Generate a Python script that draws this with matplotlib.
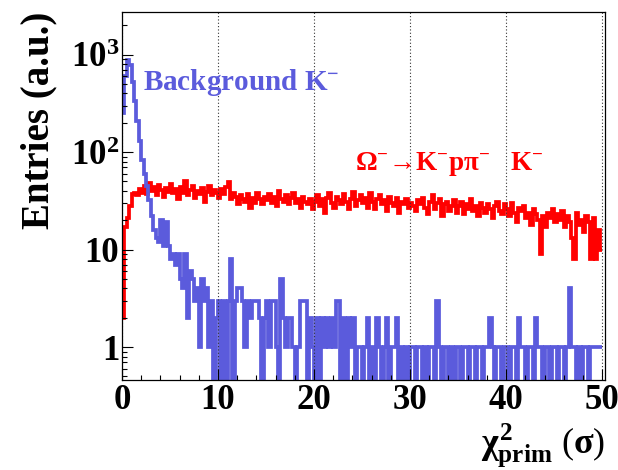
import numpy as np
import matplotlib
matplotlib.use('Agg')
import matplotlib.pyplot as plt
from matplotlib.ticker import FixedLocator, MultipleLocator, LogLocator, NullFormatter

plt.rcParams['font.family'] = ['Liberation Serif', 'DejaVu Serif']
plt.rcParams['font.weight'] = 'bold'
plt.rcParams['mathtext.fontset'] = 'custom'
plt.rcParams['mathtext.rm'] = 'Liberation Serif:bold'
plt.rcParams['mathtext.it'] = 'Liberation Serif:bold'
plt.rcParams['mathtext.bf'] = 'Liberation Serif:bold'

# chi2_prim histogram, 200 bins of 0.25 sigma from 0 to 50
bin_edges = np.linspace(0, 50, 201)

# Omega- -> K- p pi-, K- daughter (signal)
signal_k = [
    2, 17, 21, 28, 37, 38, 36, 42, 38, 45, 37, 48, 40, 44, 36, 46, 41, 35, 43, 39,
    47, 38, 42, 33, 44, 38, 50, 36, 41, 45, 34, 40, 37, 43, 31, 39, 45, 36, 41, 38,
    34, 42, 37, 44, 49, 33, 38, 35, 29, 36, 33, 31, 37, 27, 34, 30, 38, 33, 29, 35,
    32, 37, 30, 35, 28, 40, 33, 31, 36, 29, 34, 38, 30, 33, 27, 35, 31, 29, 33, 26,
    31, 36, 28, 33, 24, 34, 38, 30, 27, 35, 32, 29, 37, 31, 26, 33, 39, 28, 32, 36,
    30, 34, 27, 38, 31, 26, 33, 36, 29, 32, 25, 35, 30, 28, 34, 24, 31, 29, 33, 27,
    30, 28, 25, 32, 29, 34, 27, 23, 31, 36, 26, 30, 33, 22, 29, 31, 25, 28, 32, 24,
    28, 31, 23, 29, 26, 33, 25, 28, 22, 30, 27, 24, 29, 26, 21, 28, 31, 25, 23, 29,
    26, 22, 30, 24, 19, 27, 25, 28, 21, 24, 18, 26, 23, 20, 9, 22, 17, 24, 21, 26,
    19, 23, 20, 25, 17, 22, 19, 13, 8, 24, 18, 20, 15, 22, 19, 8, 21, 8, 16, 10,
]

# background K-
background_k = [
    250, 600, 880, 780, 520, 330, 210, 130, 83, 60, 45, 32, 22, 16, 13, 12, 20, 11, 19, 11,
    8, 9, 7, 9, 5, 4, 9, 2, 6, 5, 3, 4, 1, 5, 3, 4, 1, 3, 0, 2,
    3, 0, 3, 0, 3, 8, 0, 3, 4, 4, 3, 1, 3, 2, 3, 3, 3, 2, 0, 2,
    3, 1, 3, 3, 1, 0, 5, 2, 1, 2, 2, 1, 0, 1, 3, 3, 3, 0, 2, 1,
    0, 2, 0, 2, 1, 2, 1, 2, 1, 3, 3, 0, 2, 0, 2, 1, 2, 0, 1, 1,
    0, 1, 2, 0, 1, 0, 2, 1, 0, 1, 2, 0, 1, 1, 2, 0, 1, 0, 1, 0,
    1, 1, 0, 1, 1, 0, 1, 0, 1, 1, 0, 3, 1, 0, 1, 1, 0, 1, 0, 1,
    1, 0, 1, 1, 0, 1, 1, 0, 1, 1, 0, 1, 1, 2, 1, 0, 1, 1, 0, 1,
    1, 0, 1, 1, 0, 2, 1, 1, 0, 1, 1, 0, 2, 1, 1, 0, 1, 1, 0, 1,
    1, 0, 1, 1, 0, 1, 4, 1, 1, 0, 1, 0, 1, 1, 0, 1, 1, 1, 1, 1,
]

x_major = [0, 10, 20, 30, 40, 50]
y_major = [1, 10, 100, 1000]
y_major_labels = ['1', '10', r'$10^{2}$', r'$10^{3}$']

blue = '#5b5bdc'
red = '#ff0000'

fig = plt.figure(figsize=(6.18, 4.70), dpi=100)
ax = fig.add_axes([122 / 618, 1 - 380 / 470, (605 - 122) / 618, (380 - 12) / 470])

ax.set_yscale('log', nonpositive='clip')
ax.stairs(signal_k, bin_edges, color=red, lw=2.7, baseline=None)
ax.stairs(background_k, bin_edges, color=blue, lw=2.7, baseline=None)

ax.set_xlim(0, 50.3)
ax.set_ylim(0.46, 2730)

ax.xaxis.set_major_locator(FixedLocator(x_major))
ax.xaxis.set_minor_locator(MultipleLocator(2))
ax.yaxis.set_major_locator(FixedLocator(y_major))
ax.set_yticklabels(y_major_labels)
ax.yaxis.set_minor_locator(LogLocator(base=10, subs=np.arange(2, 10)))
ax.yaxis.set_minor_formatter(NullFormatter())

ax.tick_params(which='both', direction='in', top=False, right=False, width=0.8)
ax.tick_params(which='major', length=8, labelsize=25)
ax.tick_params(which='minor', length=3.8)
ax.tick_params(axis='y', pad=2)
ax.tick_params(axis='x', pad=3)
ax.grid(axis='x', which='major', linestyle=(0, (1, 2)), color='#333333', lw=0.8)

for s in ax.spines.values():
    s.set_linewidth(0.9)

ax.set_ylabel('Entries (a.u.)', fontsize=28, fontweight='bold', loc='top', labelpad=10)
ax.set_xlabel(r'$\chi^{2}_{prim}$ ($\sigma$)', fontsize=26, loc='right', labelpad=3)

ax.text(0.043, 0.788, r'Background K$^{-}$', color=blue, fontsize=21,
        fontweight='bold', transform=ax.transAxes, va='baseline')
ax.text(0.482, 0.571, r'Ω$^{-}$→K$^{-}$pπ$^{-}$   K$^{-}$', color=red,
        fontsize=19.5, fontweight='bold', transform=ax.transAxes, va='baseline')

fig.savefig('out.png', dpi=100)
